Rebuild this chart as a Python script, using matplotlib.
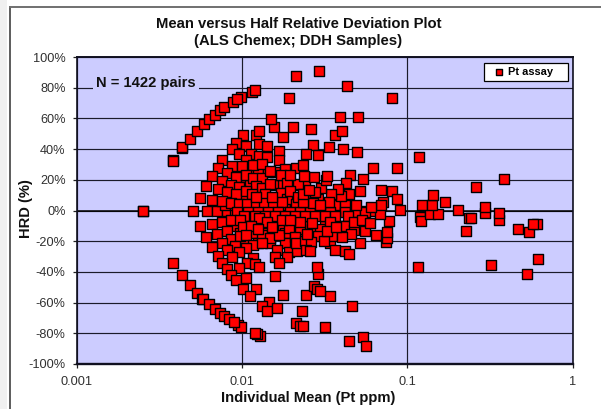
import matplotlib
matplotlib.use("Agg")
import matplotlib.pyplot as plt
from matplotlib.patches import Rectangle
from matplotlib.ticker import FixedLocator, FuncFormatter, NullLocator

plt.rcParams['font.family'] = ['Liberation Sans', 'DejaVu Sans']

TITLE = "Mean versus Half Relative Deviation Plot\n(ALS Chemex; DDH Samples)"
XLABEL = "Individual Mean (Pt ppm)"
YLABEL = "HRD (%)"
NOTE = "N = 1422 pairs"
SERIES = "Pt assay"
x_ticks = [0.001, 0.01, 0.1, 1]
x_tick_labels = ["0.001", "0.01", "0.1", "1"]
y_ticks = [-100, -80, -60, -40, -20, 0, 20, 40, 60, 80, 100]

# (log10 of mean Pt ppm, HRD %)
upper_arc = [(-2.419,33),(-2.419,32.5),(-2.364,40.8),(-2.364,41.2),(-2.314,46.9),(-2.272,52),(-2.231,56.4),(-2.198,59.6),
             (-2.163,62.5),(-2.133,65.2),(-2.107,67.3),(-2.053,71),(-2.008,73.9),(-2.028,72.5),(-1.941,77.3),(-1.923,78.2)]
lower_arc = [(-2.419,-34.2),(-2.364,-42),(-2.314,-48.4),(-2.272,-53.6),(-2.24,-57.7),(-2.232,-57.7),(-2.198,-61.2),
             (-2.163,-64.3),(-2.133,-66.9),(-2.107,-69),(-2.077,-71),(-2.024,-74.5),(-2.004,-75.6),(-2.05,-72.8),
             (-1.889,-81.5),(-1.908,-80.6),(-1.923,-79.7)]
zero_row = [(-2.596,-0.5),(-2.596,-0.5),(-2.296,-0.5),(-2.213,-0.5),(-2.153,-0.5),(-2.092,0),(-2.042,0),(-1.994,0),(-1.934,0),
            (-1.873,0),(-1.813,0),(-1.752,0),(-1.692,0),(-1.632,0),(-1.571,0),(-1.511,0),(-1.450,0),(-1.390,0),
            (-1.330,0),(-1.269,0),(-1.209,0)]
upper_cloud = [(-1.992,49.5),(-1.914,49.5),(-1.897,51.6),(-1.805,54.4),(-1.751,47.9),(-1.692,54.4),(-2.038,44),(-2.062,40.3),
               (-1.972,42.3),(-1.897,43.3),(-1.847,42.3),(-1.777,38.8),(-2.016,37.1),(-1.947,37.1),(-1.896,35.3),(-1.847,35.1),
               (-1.778,32.7),(-2.121,32.7),(-2.147,27.9),(-2.062,28.8),(-1.974,32.7),(-1.932,29.9),(-1.879,30.1),(-1.740,27.3),
               (-1.674,27.9),(-2.092,24.4),(-2.179,22.4),(-2.038,21.8),(-1.998,28.8),(-1.972,23.3),(-1.932,21.1),(-1.881,21.4),
               (-1.766,22.9),(-2.119,19.4),(-2.065,16.8),(-2.216,16.1),(-2.147,13.7),(-2.018,15.2),(-1.917,16.1),(-1.877,14.6),
               (-1.831,17.5),(-1.726,18.1),(-1.660,17.5),(-2.092,11.8),(-1.992,9.3),(-2.038,10.5),(-1.972,12.6),(-1.941,10.9),
               (-1.861,10.5),(-1.766,11.3),(-2.252,8.3),(-2.179,7),(-2.119,5.9),(-2.065,5),(-2.018,4.4),(-1.968,4.4),
               (-1.917,4.4),(-1.867,4.8),(-1.811,4.4),(-1.724,7.4),(-1.760,5.4),(-1.670,4.4),(-1.710,13),(-1.662,9),
               (-1.819,8.5),(-1.915,8.5),(-1.710,23),(-1.831,26),(-1.821,59.5),(-1.714,73.2)]
centre_rows = [(-2.030,-1.3),(-1.964,-1.3),(-1.903,-1.3),(-1.843,-1.3),(-1.783,-1.3),(-1.710,-1.3),(-1.650,-1.3),(-1.589,-1.3),
               (-1.529,-1.3),(-1.468,-1.3),(-1.378,-1.3),(-1.317,-1.3),(-1.257,-1.3),(-1.988,-3.9),(-1.921,-3.9),(-1.861,-3.9),
               (-1.801,-3.9),(-1.740,-3.9),(-1.680,-3.9),(-1.619,-3.9),(-1.559,-3.9),(-1.499,-3.9),(-1.438,-3.9),(-1.360,-3.9)]
dense_upper = [(-2.042,7.8),(-1.982,7.8),(-1.903,7.8),(-1.843,7.8),(-1.770,7.8),(-1.698,7.8),(-1.619,7.8),(-1.541,7.8),
               (-1.982,16.3),(-1.952,16.3),(-1.801,16.3),(-1.752,16.3),(-1.680,16.3),(-1.619,16.3),
               (-2.012,24.8),(-1.940,24.8),(-1.903,24.8),(-1.843,24.8),(-1.801,24.8),
               (-2.103,3.3),(-2.042,3.3),(-1.940,3.3),(-1.879,3.3),(-1.801,3.3),(-1.740,3.3),(-1.680,3.3),(-1.589,3.3),(-1.438,3.3),(-1.378,3.3)]
dense_lower = [(-2.042,-9.8),(-1.903,-9.8),(-1.801,-9.8),(-1.752,-9.8),(-1.668,-9.8),(-1.601,-9.8),(-1.499,-9.8),(-1.420,-9.8),
               (-2.012,-14.4),(-1.921,-14.4),(-1.861,-14.4),(-1.740,-14.4),(-1.650,-14.4),(-1.577,-14.4),(-1.408,-14.4),
               (-1.982,-21),(-1.903,-21),(-1.831,-21),(-1.740,-21),(-1.650,-21),(-1.468,-21)]
lower_cloud = [(-2.252,-9.8),(-2.179,-8.5),(-2.217,-17.5),(-2.119,-7.4),(-2.065,-6.5),(-2.012,-5.9),(-1.896,-4.8),(-1.847,-7.8),
               (-1.992,-10.7),(-1.947,-9.8),(-2.149,-15),(-2.089,-13.3),(-2.065,-18.5),(-2.014,-16.5),(-1.972,-15.7),(-1.879,-15.9),
               (-1.829,-18.1),(-1.775,-15.9),(-1.714,-11.3),(-1.760,-6.5),(-2.119,-20.9),(-2.181,-24),(-2.040,-23.3),(-1.932,-22.4),
               (-1.972,-24.6),(-1.787,-25.9),(-1.716,-27),(-1.668,-26.3),(-2.091,-25.7),(-2.016,-27.3),(-2.147,-29.4),(-2.062,-30.3),
               (-1.801,-30.1),(-1.726,-30.5),(-1.932,-31.2),(-2.119,-34.2),(-1.970,-34.2),(-1.921,-34.8),(-1.899,-36.8),(-1.778,-34.4),
               (-2.091,-38.4),(-2.016,-37.7),(-2.065,-42),(-2.038,-45.1),(-1.974,-43.8),(-1.801,-42.7),(-1.992,-51),(-1.915,-51),
               (-1.950,-55.4),(-1.752,-55.1),(-1.835,-59.9),(-1.877,-62.5),(-1.847,-65.4),(-1.790,-63.4),(-1.670,-73),(-1.650,-75.2),
               (-1.903,-11.8),(-1.819,-10.5),(-1.650,-11.8),(-1.680,-17),(-1.529,-11.8),(-1.378,-9.8),(-1.541,-16.3),(-1.456,-16.3),
               (-1.879,-21),(-1.674,-21),(-1.619,-19.6),(-1.468,-7.8),(-1.650,-7.8),(-1.710,-6.5)]
mid_grade = [(-1.639,-65.6),(-1.633,-75),(-1.497,-75.6),(-1.334,-61.9),(-1.352,-85.2),(-1.269,-82.2),(-1.249,-88.4),(-1.467,-56),
             (-1.613,-55.1),(-1.563,-49),(-1.545,-51.2),(-1.529,-52.7),(-1.541,-41.4),(-1.547,-36.6),(-1.438,-25.7),(-1.374,-26.1),
             (-1.349,-28.1),(-1.283,-21.1),(-1.128,-20.5),(-1.120,-17.6),(-1.120,-13.7),(-1.191,-15.9),(-1.253,-13.5),(-1.324,-12.6),
             (-1.337,-15.2),(-1.396,-17.2),(-1.501,-20.1),(-1.579,-20.3),(-1.613,-25.7),(-1.589,-26.1),(-1.603,-15.2),(-1.485,-13.5),
             (-1.430,-10.5),(-1.575,-8.3),(-1.322,-7.2),(-1.271,-6.3),(-1.225,-8.3),(-1.112,-6.7),(-1.166,-2.2),(-1.041,0.5),
             (-1.207,27.6),(-1.062,27.9),(-1.265,20.7),(-1.346,22.9),(-1.370,18.1),(-1.287,12.9),(-1.159,13.1),(-1.092,12.9),
             (-1.060,7.8),(-1.147,5.4),(-1.159,3.9),(-1.221,2.2),(-1.307,3.9),(-1.352,10.7),(-1.402,9.3),(-1.418,14.2),
             (-1.462,10.9),(-1.521,14.4),(-1.563,21.8),(-1.493,20.1),(-1.482,22.4),(-1.621,22.4),(-1.630,29.9),(-1.304,38.1),
             (-1.388,40.1),(-1.475,41.6),(-1.569,42.7),(-1.613,37.1),(-1.537,36.1),(-1.438,49.5),(-1.394,52.1),(-1.579,53.4),
             (-1.406,60.8),(-1.299,61.2),(-1.090,73.4),(-1.362,80.8),(-1.535,90.8),(-1.674,87.8),(-1.569,5),(-1.473,5.4),
             (-1.633,5.4),(-1.633,10.5),(-1.559,12),(-1.594,13.1),(-1.529,3.3)]
high_grade = [(-0.923,-4.1),(-0.915,-6.7),(-0.860,-2.4),(-0.814,-2.6),(-0.691,0.2),(-0.629,-4.8),(-0.611,-5.2),(-0.647,-13.3),
              (-0.528,-1.8),(-0.446,-6.1),(-0.444,-1.5),(-0.329,-11.8),(-0.262,-13.9),(-0.214,-8.7),(-0.241,-8.5),(-0.935,-36.6),
              (-0.490,-35.3),(-0.273,-41.6),(-0.210,-31.8),(-0.909,3.3),(-0.851,3.9),(-0.774,5.4),(-0.842,9.8),(-0.582,15.2),
              (-0.413,20.5),(-0.528,2.6),(-0.929,35.1)]

groups = [upper_arc, lower_arc, zero_row, dense_upper, dense_lower, upper_cloud, centre_rows, lower_cloud, mid_grade, high_grade]
log_mean = [p[0] for g in groups for p in g]
hrd = [p[1] for g in groups for p in g]
mean = [10 ** v for v in log_mean]

W, H = 601, 409
fig = plt.figure(figsize=(W / 100, H / 100), dpi=100, facecolor='white')

# page strip and chart-area frame
fig.add_artist(Rectangle((0, 0), 7 / W, 1, transform=fig.transFigure, fc='#f0f0f0', ec='none'))
fig.add_artist(plt.Line2D([9.5 / W, 9.5 / W], [0, 1 - 7 / H], transform=fig.transFigure, color='#303030', lw=1.1))
fig.add_artist(plt.Line2D([9.5 / W, 1], [1 - 7 / H, 1 - 7 / H], transform=fig.transFigure, color='#707070', lw=1.4))

ax = fig.add_axes([76.5 / W, 1 - 364 / H, 496 / W, 307 / H], facecolor='#CCCCFF')
ax.set_xscale('log')
ax.set_xlim(0.001, 1)
ax.set_ylim(-100, 100)
ax.xaxis.set_major_locator(FixedLocator(x_ticks))
ax.xaxis.set_minor_locator(NullLocator())
ax.set_xticklabels(x_tick_labels)
ax.yaxis.set_major_locator(FixedLocator(y_ticks))
ax.yaxis.set_major_formatter(FuncFormatter(lambda v, _: f"{int(v)}%"))
ax.grid(True, which='major', color='#1a1a2a', lw=0.85)
ax.set_axisbelow(True)
ax.tick_params(axis='both', length=2.8, width=0.9, color='#202020', labelcolor='#303030', labelsize=9.2)
ax.tick_params(axis='x', pad=5.5)
ax.tick_params(axis='y', pad=5)
for s in ax.spines.values():
    s.set_color('#101020')
ax.spines['bottom'].set_linewidth(1.7)
ax.spines['left'].set_linewidth(1.2)
ax.spines['right'].set_linewidth(1.2)
ax.spines['top'].set_linewidth(1.4)
ax.axhline(0, color='black', lw=1.1, zorder=1)

ax.scatter(mean, hrd, marker='s', s=44, c='#FF0000', edgecolors='black', linewidths=1.0,
           zorder=3, label=SERIES)

ax.text(0.14, 0.915, NOTE, transform=ax.transAxes, ha='center', va='center', fontsize=10.6, fontweight='bold',
        color='#101010', bbox=dict(fc='#CCCCFF', ec='none', pad=2), zorder=2)

# legend frame is wider than its content, so it is drawn as its own box
ax.add_patch(Rectangle(((484 - 76.5) / 496, (364 - 80.5) / 307), 84 / 496, 17.5 / 307, transform=ax.transAxes,
                       fc='white', ec='black', lw=0.9, zorder=4))
leg = ax.legend(loc='center left', bbox_to_anchor=((491 - 76.5) / 496, (364 - 71.8) / 307), frameon=False,
                borderaxespad=0, borderpad=0, markerscale=0.72, handletextpad=0.19, handlelength=1.4,
                prop={'weight': 'bold', 'size': 7.9})
leg.set_zorder(5)

fig.text(298.5 / W, 1 - 32.5 / H, TITLE, ha='center', va='center', fontsize=10.7, fontweight='bold', color='#101010', linespacing=1.2)
fig.text(308.5 / W, 1 - 398 / H, XLABEL, ha='center', va='center', fontsize=10.6, fontweight='bold', color='#101010')
fig.text(26 / W, 1 - 208.5 / H, YLABEL, ha='center', va='center', rotation=90, fontsize=10.6, fontweight='bold', color='#101010')

fig.savefig('out.png', dpi=100, facecolor='white')
